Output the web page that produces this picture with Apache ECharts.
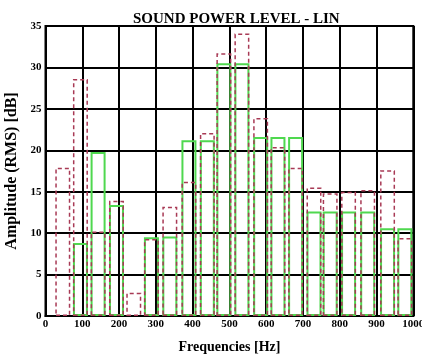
<!DOCTYPE html>
<html><head><meta charset="utf-8">
<script src="https://cdn.jsdelivr.net/npm/echarts@6/dist/echarts.min.js"></script>
<style>html,body{margin:0;padding:0;background:#fff}#c{width:422px;height:358px}</style>
</head><body><div id="c"></div>
<script>
// Band centre frequencies (Hz)
const freqs = [47, 95, 143, 193, 240, 288, 338, 390, 440, 485, 534, 585, 632, 680, 730, 774, 824, 876, 930, 977];
// Red dashed bars (dB)
const redLevels = [17.9, 28.6, 10.2, 13.9, 2.8, 9.3, 13.2, 16.2, 22.1, 31.7, 34.1, 23.9, 20.4, 17.9, 15.5, 14.8, 15.0, 15.2, 17.6, 9.4];
// Green solid bars (dB)
const greenLevels = [null, 8.8, 19.8, 13.4, null, 9.5, 9.6, 21.2, 21.2, 30.5, 30.5, 21.6, 21.6, 21.6, 12.6, 12.6, 12.6, 12.6, 10.6, 10.6];
const xTickLabels = ['0', '100', '200', '300', '400', '500', '600', '700', '800', '900', '1000'];
const yTickLabels = ['0', '5', '10', '15', '20', '25', '30', '35'];

const FONT = 'Liberation Serif';
const chart = echarts.init(document.getElementById('c'), null, {renderer: 'canvas'});
const toData = (arr) => arr.map((v, i) => [freqs[i], v == null ? '-' : v]);

chart.setOption({
  animation: false,
  backgroundColor: '#ffffff',
  title: {
    text: 'SOUND POWER LEVEL - LIN',
    left: 128, top: 7,
    textStyle: {fontFamily: FONT, fontWeight: 'bold', fontSize: 15, color: '#000'}
  },
  grid: {left: 45.5, right: 8.7, top: 26, bottom: 42, containLabel: false, outerBoundsMode: 'none',
    show: true, borderColor: '#000', borderWidth: 2, backgroundColor: 'transparent'},
  xAxis: {
    type: 'value', min: 0, max: 1000, interval: 100,
    name: 'Frequencies [Hz]', nameLocation: 'middle', nameGap: 24,
    nameTextStyle: {fontFamily: FONT, fontWeight: 'bold', fontSize: 14, color: '#000'},
    axisLine: {show: true, lineStyle: {color: '#000', width: 2}},
    axisTick: {show: false},
    axisLabel: {fontFamily: FONT, fontWeight: 'bold', fontSize: 11, color: '#000', margin: 3,
      formatter: (v) => xTickLabels[Math.round(v / 100)]},
    splitLine: {show: true, lineStyle: {color: '#000', width: 2}}
  },
  yAxis: {
    type: 'value', min: 0, max: 35, interval: 5,
    name: 'Amplitude (RMS) [dB]', nameLocation: 'middle', nameGap: 26,
    nameTextStyle: {fontFamily: FONT, fontWeight: 'bold', fontSize: 16, color: '#000'},
    axisLine: {show: true, lineStyle: {color: '#000', width: 2}},
    axisTick: {show: false},
    axisLabel: {fontFamily: FONT, fontWeight: 'bold', fontSize: 11, color: '#000', margin: 4,
      formatter: (v) => yTickLabels[Math.round(v / 5)]},
    splitLine: {show: true, lineStyle: {color: '#000', width: 2}}
  },
  series: [
    {
      type: 'bar', data: toData(greenLevels), barWidth: 15, barGap: '-100%',
      itemStyle: {color: 'rgba(0,0,0,0)', borderColor: '#4fd84f', borderWidth: 2}
    },
    {
      type: 'bar', data: toData(redLevels), barWidth: 15, barGap: '-100%',
      itemStyle: {color: 'rgba(0,0,0,0)', borderColor: '#a83a55', borderWidth: 1.5, borderType: [4, 3]}
    }
  ]
});
</script>
</body></html>
